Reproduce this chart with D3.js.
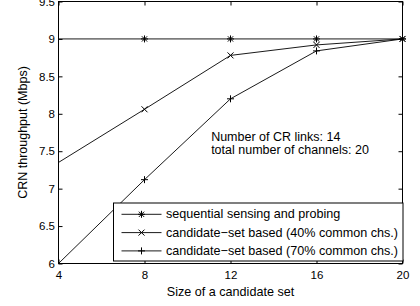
<!DOCTYPE html>
<head>
  <meta charset="UTF-8">
  <style>
    body { margin: 0; background: #fff; }
    svg { display: block; font-family: "Liberation Sans", Arial, sans-serif; }
  </style>
</head>
<body>
<script src="https://d3js.org/d3.v7.min.js"></script>
<div id="chart"></div>
<script>
  // data
  var setSizes = [4, 8, 12, 16, 20];
  var sequential = [9, 9, 9, 9, 9];
  var common40 = [7.35, 8.06, 8.78, 8.92, 9];
  var common70 = [6, 7.12, 8.2, 8.84, 9];
  var seriesNames = ["sequential sensing and probing",
                     "candidate\u2212set based (40% common chs.)",
                     "candidate\u2212set based (70% common chs.)"];
  var markers = ["star", "cross", "plus"];
  var xTicks = [4, 8, 12, 16, 20];
  var yTicks = [6, 6.5, 7, 7.5, 8, 8.5, 9, 9.5];
  var noteLines = ["Number of CR links: 14", "total number of channels: 20"];

  var width = 420, height = 306;
  var margin = {top: 1.5, right: 17.5, bottom: 42.5, left: 58.5};
  var w = width - margin.left - margin.right;
  var h = height - margin.top - margin.bottom;

  var svg = d3.select("#chart").append("svg")
    .attr("width", width)
    .attr("height", height);

  var g = svg.append("g")
    .attr("transform", "translate(" + margin.left + "," + margin.top + ")");

  var x = d3.scaleLinear().domain([4, 20]).range([0, w]);
  var y = d3.scaleLinear().domain([6, 9.5]).range([h, 0]);

  // axes, ticks inside, matlab style box
  g.append("g")
    .attr("transform", "translate(0," + h + ")")
    .call(d3.axisBottom(x).tickValues(xTicks).tickSizeInner(-4).tickSizeOuter(0).tickPadding(7).tickFormat(d3.format("d")));
  g.append("g")
    .call(d3.axisTop(x).tickValues(xTicks).tickSizeInner(-4).tickSizeOuter(0).tickFormat(""));
  g.append("g")
    .call(d3.axisLeft(y).tickValues(yTicks).tickSizeInner(-4).tickSizeOuter(0).tickPadding(3.5).tickFormat(d3.format("")));
  g.append("g")
    .attr("transform", "translate(" + w + ",0)")
    .call(d3.axisRight(y).tickValues(yTicks).tickSizeInner(-4).tickSizeOuter(0).tickFormat(""));

  g.selectAll(".domain").remove();
  g.selectAll(".tick line").attr("stroke", "#000");
  g.selectAll(".tick text").attr("font-size", 11.5).attr("fill", "#000")
    .attr("font-family", "'Liberation Sans', Arial, sans-serif");

  g.append("rect")
    .attr("width", w).attr("height", h)
    .attr("fill", "none").attr("stroke", "#000").attr("stroke-width", 1);

  // marker drawing
  function drawMarker(sel, type, cx, cy) {
    var s = 3.5;
    var p = "";
    if (type === "plus" || type === "star") {
      p += "M" + (cx - s) + "," + cy + "H" + (cx + s) + "M" + cx + "," + (cy - s) + "V" + (cy + s);
    }
    if (type === "cross" || type === "star") {
      var d = type === "star" ? s * 0.75 : 3;
      p += "M" + (cx - d) + "," + (cy - d) + "L" + (cx + d) + "," + (cy + d) +
           "M" + (cx - d) + "," + (cy + d) + "L" + (cx + d) + "," + (cy - d);
    }
    sel.append("path").attr("d", p).attr("stroke", "#000").attr("stroke-width", 1).attr("fill", "none");
  }

  var allSeries = [sequential, common40, common70];
  var line = d3.line()
    .x(function(d, i) { return x(setSizes[i]); })
    .y(function(d) { return y(d); });

  allSeries.forEach(function(vals, k) {
    g.append("path")
      .datum(vals)
      .attr("d", line)
      .attr("fill", "none")
      .attr("stroke", "#000")
      .attr("stroke-width", 0.9);
    // no marker shows at the first point in the original
    vals.forEach(function(v, i) {
      if (i > 0) drawMarker(g, markers[k], x(setSizes[i]), y(v));
    });
  });

  // note text
  var note = g.append("text")
    .attr("x", x(11.1))
    .attr("y", y(7.643))
    .attr("font-size", 12.5)
    .attr("fill", "#000");
  noteLines.forEach(function(t, i) {
    note.append("tspan").attr("x", x(11.1)).attr("dy", i === 0 ? 0 : 13.5).text(t);
  });

  // legend
  var lg = svg.append("g").attr("transform", "translate(113.5,203)");
  lg.append("rect")
    .attr("width", 289.5).attr("height", 58)
    .attr("fill", "#fff").attr("stroke", "#000").attr("stroke-width", 1);
  seriesNames.forEach(function(name, k) {
    var cy = 11.3 + k * 18.3;
    lg.append("line")
      .attr("x1", 8).attr("x2", 48).attr("y1", cy).attr("y2", cy)
      .attr("stroke", "#000").attr("stroke-width", 0.9);
    drawMarker(lg, markers[k], 28, cy);
    lg.append("text")
      .attr("x", 52.5).attr("y", cy + 4)
      .attr("font-size", 12.6).attr("fill", "#000")
      .text(name);
  });

  // axis labels
  svg.append("text")
    .attr("x", margin.left + w / 2)
    .attr("y", 296)
    .attr("text-anchor", "middle")
    .attr("font-size", 12.6)
    .text("Size of a candidate set");

  svg.append("text")
    .attr("transform", "translate(27," + (margin.top + h / 2) + ") rotate(-90)")
    .attr("text-anchor", "middle")
    .attr("font-size", 12.5)
    .text("CRN throughput (Mbps)");
</script>
</body>
</html>
